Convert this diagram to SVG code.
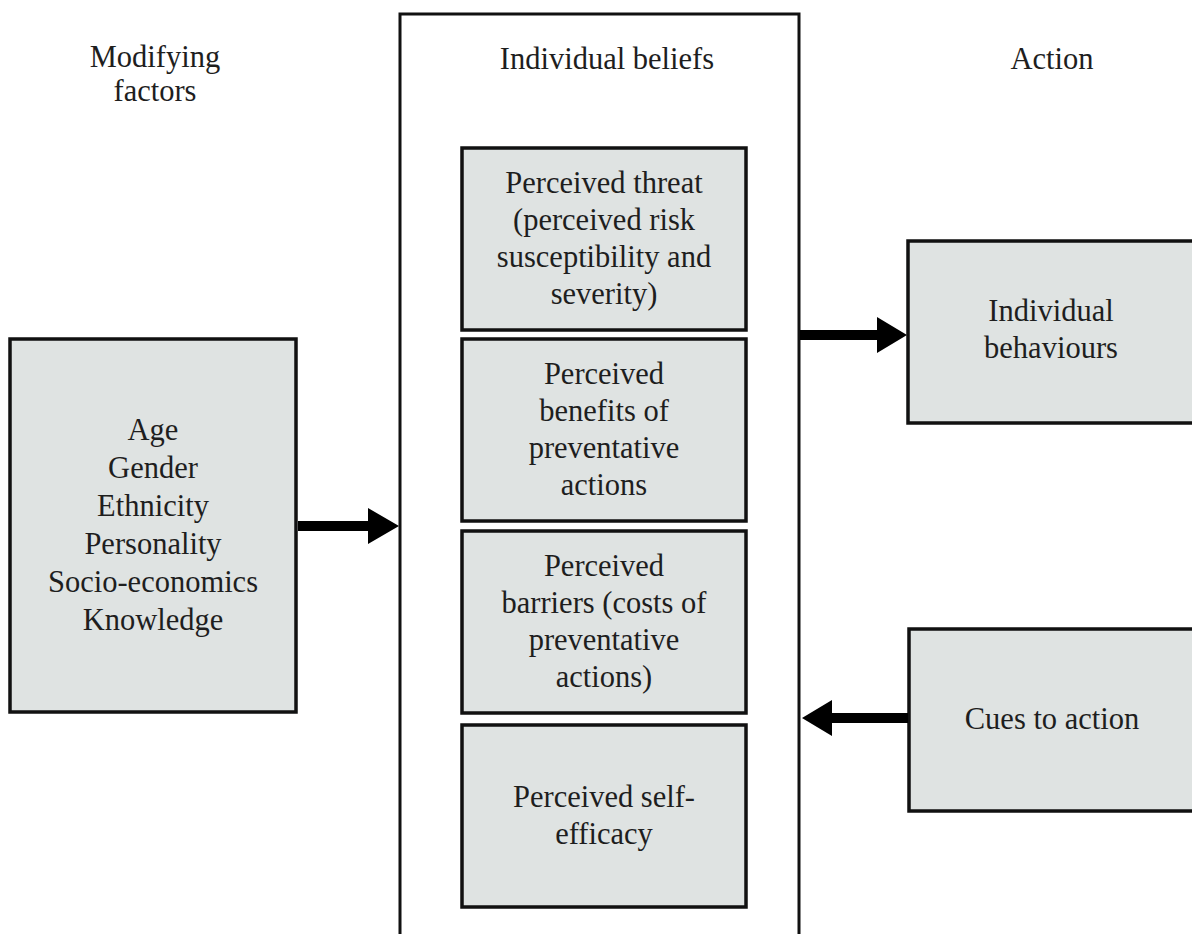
<svg xmlns="http://www.w3.org/2000/svg" width="1192" height="934" viewBox="0 0 1192 934">
<style>
.box{fill:#dfe3e2;stroke:#111;stroke-width:3.5}
.frame{fill:none;stroke:#111;stroke-width:3}
text{font-family:"Liberation Serif","Times New Roman",serif;font-size:30.5px;fill:#1e1e1e;text-anchor:middle}
.arr{fill:#000}
</style>
<rect width="1192" height="934" fill="#fff"/>
<g id="labels">
<text x="155" y="67">Modifying</text>
<text x="155" y="101">factors</text>
<text x="607" y="69">Individual beliefs</text>
<text x="1052" y="69">Action</text>
</g>
<g id="beliefs-frame"><path class="frame" d="M400 940 V14 H799 V940"/></g>
<g id="modifying">
<rect class="box" x="10" y="339" width="286" height="373"/>
<text x="153" y="440">Age</text>
<text x="153" y="478">Gender</text>
<text x="153" y="516">Ethnicity</text>
<text x="153" y="554">Personality</text>
<text x="153" y="592">Socio-economics</text>
<text x="153" y="630">Knowledge</text>
</g>
<g id="threat">
<rect class="box" x="462" y="148" width="284" height="182"/>
<text x="604" y="193">Perceived threat</text>
<text x="604" y="230">(perceived risk</text>
<text x="604" y="267">susceptibility and</text>
<text x="604" y="304">severity)</text>
</g>
<g id="benefits">
<rect class="box" x="462" y="339" width="284" height="182"/>
<text x="604" y="384">Perceived</text>
<text x="604" y="421">benefits of</text>
<text x="604" y="458">preventative</text>
<text x="604" y="495">actions</text>
</g>
<g id="barriers">
<rect class="box" x="462" y="531" width="284" height="182"/>
<text x="604" y="576">Perceived</text>
<text x="604" y="613">barriers (costs of</text>
<text x="604" y="650">preventative</text>
<text x="604" y="687">actions)</text>
</g>
<g id="efficacy">
<rect class="box" x="462" y="725" width="284" height="182"/>
<text x="604" y="807">Perceived self-</text>
<text x="604" y="844">efficacy</text>
</g>
<g id="behaviours">
<rect class="box" x="908" y="241" width="300" height="182"/>
<text x="1051" y="321">Individual</text>
<text x="1051" y="358">behaviours</text>
</g>
<g id="cues">
<rect class="box" x="909" y="629" width="300" height="182"/>
<text x="1052" y="729">Cues to action</text>
</g>
<g id="connectors">
<path class="arr" d="M298 521 H368 V508 L399 526 L368 544 V531 H298 Z"/>
<path class="arr" d="M800 330 H877 V317 L907 335 L877 353 V340 H800 Z"/>
<path class="arr" d="M908 713 H832 V700 L802 718 L832 736 V723 H908 Z"/>
</g>
</svg>
